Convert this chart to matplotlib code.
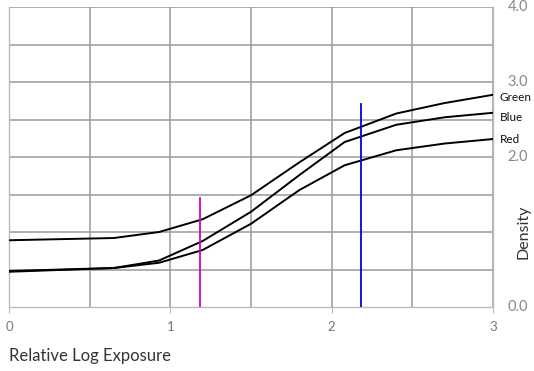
import matplotlib
matplotlib.use("Agg")
import matplotlib.pyplot as plt

plt.rcParams["font.family"] = ["Lato", "DejaVu Sans"]

# log exposure knots and densities
exposure = [0.0, 0.65, 0.93, 1.2, 1.5, 1.8, 2.08, 2.4, 2.7, 3.0]
green = [0.89, 0.92, 1.00, 1.17, 1.49, 1.93, 2.32, 2.58, 2.72, 2.83]
blue = [0.48, 0.52, 0.62, 0.88, 1.27, 1.76, 2.20, 2.43, 2.53, 2.59]
red = [0.47, 0.52, 0.59, 0.76, 1.11, 1.56, 1.89, 2.09, 2.18, 2.24]
curve_names = ["Green", "Blue", "Red"]
label_y = [2.80, 2.53, 2.23]

# vertical markers: (x, top density, colour)
marker_x = [1.185, 2.18]
marker_top = [1.45, 2.71]
marker_colors = ["#d400c8", "#0000e6"]

xticks = [0, 1, 2, 3]
yticks = [0.0, 2.0, 3.0, 4.0]
GRID = "#9a9a9a"

fig = plt.figure(figsize=(5.34, 3.71), dpi=100)
ax = fig.add_axes([0.0169, 0.1725, 0.9064, 0.8085])

for v in [0.5, 1.0, 1.5, 2.0, 2.5, 3.0]:
    ax.axvline(v, color=GRID, lw=1.1, zorder=1)
for h in [0.5, 1.0, 1.5, 2.0, 2.5, 3.0, 3.5, 4.0]:
    ax.axhline(h, color=GRID, lw=1.1, zorder=1)

for ys in (green, blue, red):
    ax.plot(exposure, ys, color="black", lw=1.4, zorder=3)

for mx, mt, mc in zip(marker_x, marker_top, marker_colors):
    ax.plot([mx, mx], [0, mt], color=mc, lw=1.3, zorder=4)

for name, ly in zip(curve_names, label_y):
    ax.text(3.04, ly, name, ha="left", va="center", fontsize=8.5,
            color="#111111", clip_on=False)

ax.set_xlim(0, 3)
ax.set_ylim(0, 4)
ax.spines["top"].set_visible(False)
for s in ("left", "bottom", "right"):
    ax.spines[s].set_color("#bbbbbb")
    ax.spines[s].set_linewidth(1.0)

ax.set_xticks(xticks)
ax.set_xticklabels([str(t) for t in xticks])
ax.tick_params(axis="x", direction="out", length=4, color="#bbbbbb",
               labelsize=9.5, labelcolor="#777777", pad=6)
ax.set_yticks([])

for t in yticks:
    ax.text(3.09, t, f"{t:.1f}", ha="left", va="center", fontsize=10.5,
            color="#888888", clip_on=False)

ax.text(3.19, 1.0, "Density", rotation=90, ha="center", va="center",
        fontsize=11.5, color="#333333", clip_on=False)
fig.text(0.0169, 0.04, "Relative Log Exposure", ha="left", va="center",
         fontsize=12, color="#333333")

fig.savefig("out.png", dpi=100, facecolor="white")
